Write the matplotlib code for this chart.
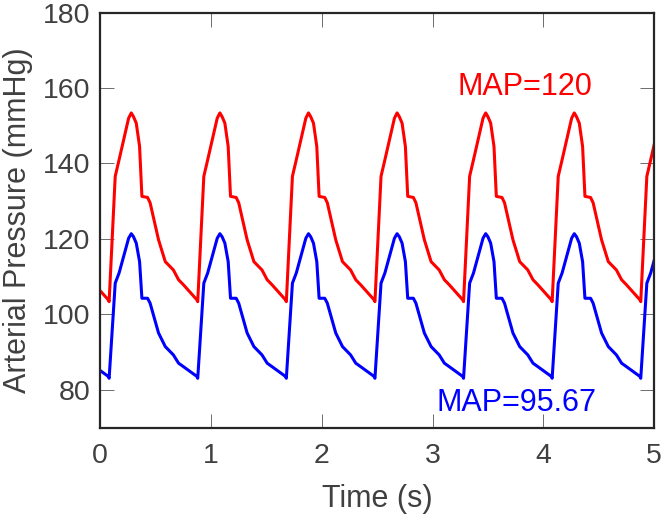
import numpy as np
import matplotlib
matplotlib.use("Agg")
import matplotlib.pyplot as plt

plt.rcParams['font.family'] = ['Liberation Sans', 'DejaVu Sans']

# One heartbeat (phase in s from the end-diastolic dip)
beat_phase = [0.0, 0.055, 0.09, 0.176, 0.2, 0.22, 0.245, 0.275, 0.296, 0.347,
              0.37, 0.446, 0.507, 0.58, 0.627, 0.67, 0.792]
red_beat = [103.4, 136.6, 141.0, 152.0, 153.4, 152.4, 150.7, 144.5, 131.3, 131.0,
            129.6, 119.8, 114.0, 111.8, 109.2, 107.9, 103.9]
blue_beat = [83.1, 108.3, 111.0, 120.2, 121.4, 120.6, 118.9, 114.0, 104.3, 104.3,
             103.0, 95.1, 91.5, 89.3, 87.1, 86.2, 83.6]
period = 0.8
first_dip = 0.08
beats = range(-1, 7)

t = np.concatenate([np.array(beat_phase) + first_dip + k * period for k in beats])
red = np.tile(red_beat, len(beats))
blue = np.tile(blue_beat, len(beats))

x_ticks = [0, 1, 2, 3, 4, 5]
y_ticks = [80, 100, 120, 140, 160, 180]

fig = plt.figure(figsize=(6.64, 5.21), dpi=100)
ax = fig.add_axes([0.151, 0.179, 0.834, 0.797])

ax.plot(t, red, color='#ff0000', lw=2.2)
ax.plot(t, blue, color='#0000ff', lw=2.2)

ax.set_xlim(0, 5)
ax.set_ylim(70, 180)
ax.set_xticks(x_ticks)
ax.set_yticks(y_ticks)

ax.text(3.83, 160.3, 'MAP=120', color='#ff0000', fontsize=22, ha='center', va='center')
ax.text(3.76, 76.6, 'MAP=95.67', color='#0000ff', fontsize=22, ha='center', va='center')

for s in ax.spines.values():
    s.set_color('#262626')
    s.set_linewidth(1.6)
ax.tick_params(direction='in', length=10, width=0.6, color='#555555',
               labelsize=20.5, labelcolor='#404040', top=True, right=True)
ax.tick_params(axis='x', pad=11)
ax.tick_params(axis='y', pad=7)
ax.set_xlabel('Time (s)', fontsize=22, color='#404040')
ax.set_ylabel('Arterial Pressure (mmHg)', fontsize=22, color='#404040')
ax.xaxis.set_label_coords(0.5, -0.135)
ax.yaxis.set_label_coords(-0.121, 0.5)

fig.savefig('out.png', dpi=100)
